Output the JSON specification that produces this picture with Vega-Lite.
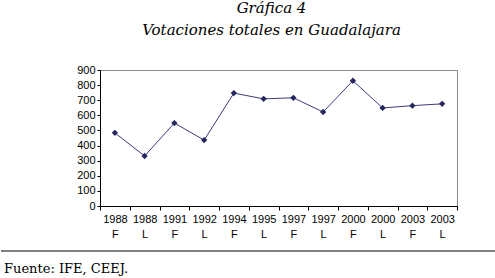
{
  "$schema": "https://vega.github.io/schema/vega-lite/v6.json",
  "padding": {"left": 0, "top": 0, "right": 0, "bottom": 0},
  "background": "white",
  "spacing": 1,
  "columns": 1,
  "align": "none",
  "config": {
    "font": "Liberation Sans",
    "axis": {"labelFont": "Liberation Sans", "labelFontSize": 11, "labelColor": "black", "domainColor": "black", "tickColor": "black", "grid": false, "title": null}
  },
  "concat": [
    {
      "width": 357,
      "height": 136,
      "view": {"stroke": "#8c8c8c", "strokeWidth": 1},
      "title": {
        "text": ["Gráfica 4", "Votaciones totales en Guadalajara"],
        "font": "DejaVu Serif",
        "fontStyle": "italic",
        "fontWeight": "normal",
        "fontSize": 15,
        "lineHeight": 22,
        "color": "black",
        "anchor": "middle",
        "frame": "group",
        "dx": -7,
        "offset": 26
      },
      "data": {
        "values": [
          {"k": "1988 F", "v": 484},
          {"k": "1988 L", "v": 331},
          {"k": "1991 F", "v": 549},
          {"k": "1992 L", "v": 436},
          {"k": "1994 F", "v": 747},
          {"k": "1995 L", "v": 709},
          {"k": "1997 F", "v": 716},
          {"k": "1997 L", "v": 622},
          {"k": "2000 F", "v": 829},
          {"k": "2000 L", "v": 649},
          {"k": "2003 F", "v": 664},
          {"k": "2003 L", "v": 676}
        ]
      },
      "encoding": {
        "x": {
          "field": "k",
          "type": "ordinal",
          "sort": null,
          "bandPosition": 0.5,
          "scale": {"type": "band", "paddingInner": 0, "paddingOuter": 0},
          "axis": {"labelAngle": 0, "labelExpr": "split(datum.label, ' ')", "labelLineHeight": 15, "tickBand": "extent", "tickSize": 4, "labelPadding": 3}
        },
        "y": {
          "field": "v",
          "type": "quantitative",
          "scale": {"domain": [0, 900], "nice": false},
          "axis": {"values": [0, 100, 200, 300, 400, 500, 600, 700, 800, 900], "tickSize": 3, "labelPadding": 2, "minExtent": 99}
        }
      },
      "layer": [
        {"mark": {"type": "line", "color": "#3b3b78", "strokeWidth": 1}},
        {"mark": {"type": "point", "shape": "diamond", "filled": true, "color": "#27275f", "size": 40, "opacity": 1}}
      ]
    },
    {
      "width": 396,
      "height": 10,
      "view": {"stroke": null},
      "title": {
        "text": "Fuente: IFE, CEEJ.",
        "orient": "bottom",
        "anchor": "start",
        "frame": "group",
        "font": "DejaVu Serif",
        "fontSize": 13,
        "fontWeight": "normal",
        "color": "black",
        "offset": 11,
        "dx": -96
      },
      "data": {"values": [{"a": 0, "b": 495, "v": 0}]},
      "mark": {"type": "rule", "color": "black", "strokeWidth": 1.2},
      "encoding": {
        "x": {"field": "a", "type": "quantitative", "scale": {"domain": [99, 495], "nice": false, "zero": false}, "axis": null},
        "x2": {"field": "b"},
        "y": {"field": "v", "type": "quantitative", "scale": {"domain": [0, 1]}, "axis": null}
      }
    }
  ]
}
